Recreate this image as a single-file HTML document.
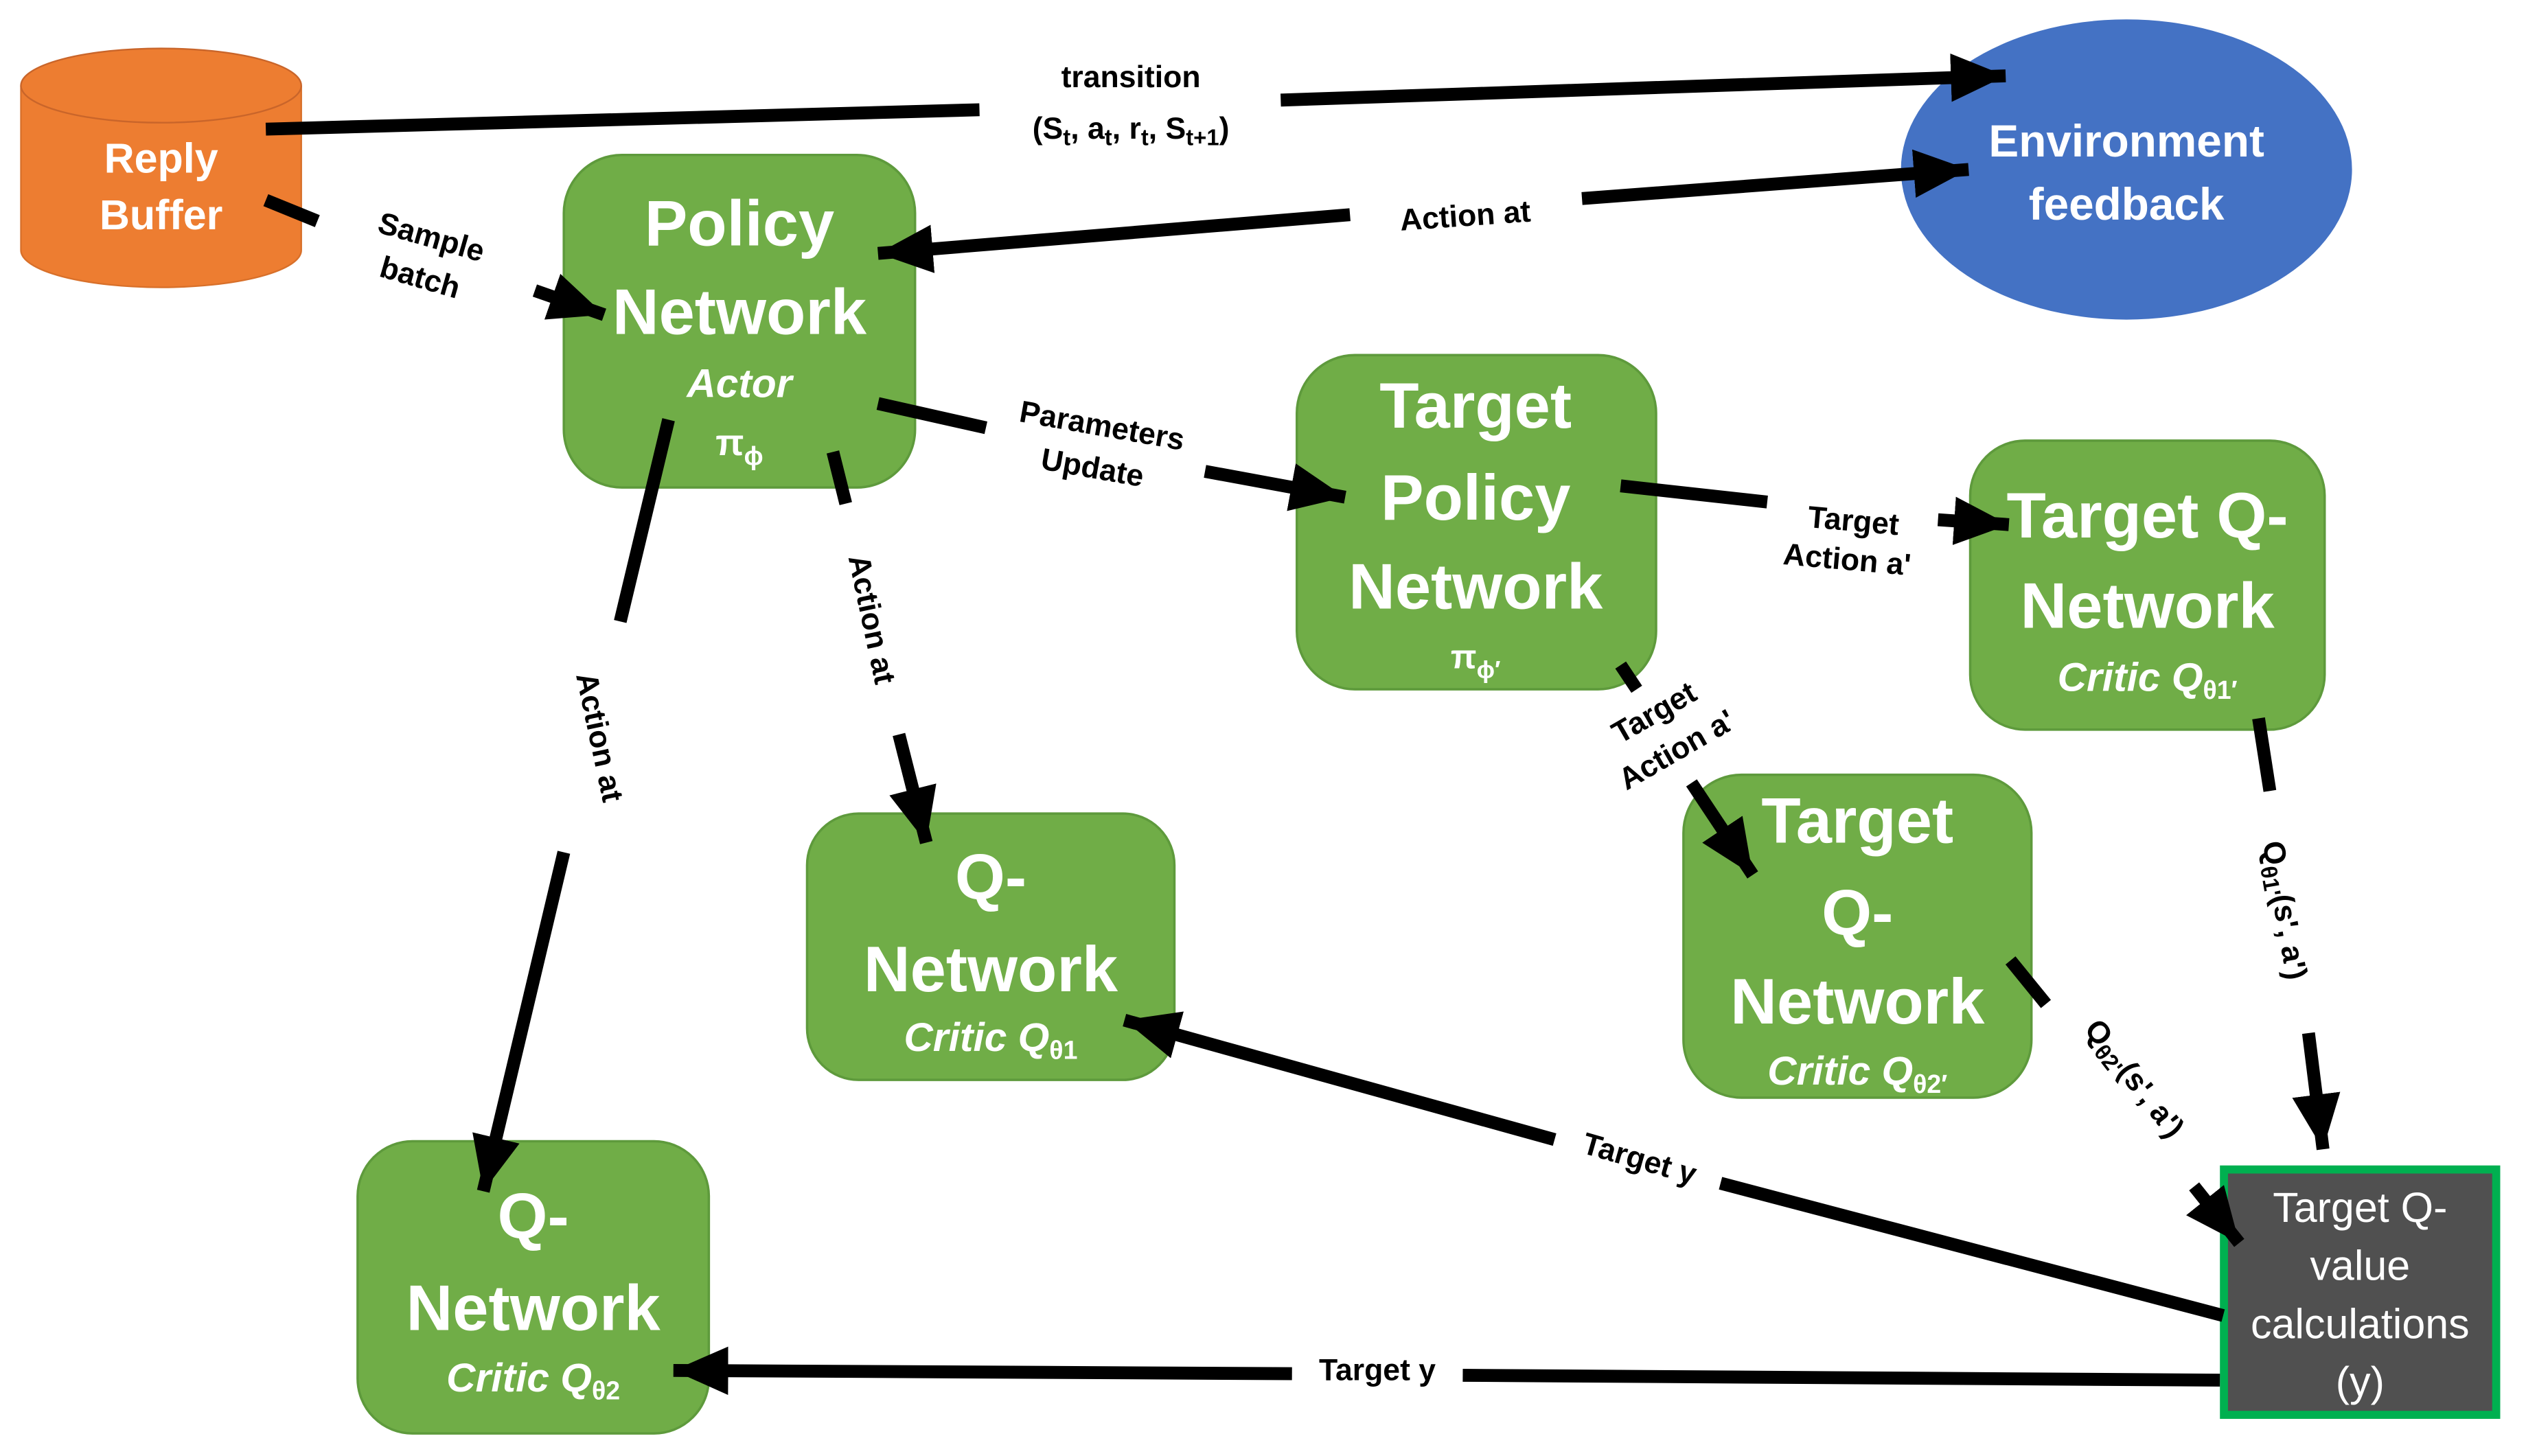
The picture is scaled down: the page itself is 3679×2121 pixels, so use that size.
<!DOCTYPE html>
<html><head><meta charset="utf-8"><style>
html,body{margin:0;padding:0;background:#fff;}
svg{display:block;}
text{font-family:"Liberation Sans",sans-serif;}
.w{fill:#fff;font-weight:bold;text-anchor:middle;}
.l{fill:#000;font-weight:bold;font-size:19px;text-anchor:middle;}
.i{font-style:italic;}
</style></head><body>
<svg width="3679" height="2121" viewBox="0 0 1568 902" preserveAspectRatio="none" xmlns="http://www.w3.org/2000/svg">
<defs>
<marker id="a" markerUnits="userSpaceOnUse" markerWidth="34" markerHeight="30" refX="34" refY="15" orient="auto">
<path d="M0,0 L34,15 L0,30 Z" fill="#000"/>
</marker>
</defs>
<path d="M13,53 L13,155 A87,23 0 0 0 187,155 L187,53" fill="#ED7D31" stroke="#D8702A" stroke-width="1"/>
<ellipse cx="100" cy="53" rx="87" ry="23" fill="#ED7D31" stroke="#C9652A" stroke-width="1"/>
<text class="w" x="100" y="107" font-size="26">Reply</text>
<text class="w" x="100" y="142" font-size="26">Buffer</text>
<ellipse cx="1320" cy="105" rx="140" ry="93" fill="#4472C4"/>
<text class="w" x="1320" y="97" font-size="28">Environment</text>
<text class="w" x="1320" y="136" font-size="28">feedback</text>
<g fill="#70AD47" stroke="#5E9A3C" stroke-width="1.5">
<rect x="350" y="96" width="218" height="206" rx="36"/>
<rect x="805" y="220" width="223" height="207" rx="36"/>
<rect x="1223" y="273" width="220" height="179" rx="34"/>
<rect x="501" y="504" width="228" height="165" rx="32"/>
<rect x="1045" y="480" width="216" height="200" rx="36"/>
<rect x="222" y="707" width="218" height="181" rx="34"/>
</g>
<text class="w" x="459" y="152" font-size="40">Policy</text>
<text class="w" x="459" y="207" font-size="40">Network</text>
<text class="w i" x="459" y="246" font-size="25">Actor</text>
<text class="w" x="459" y="282" font-size="23">π<tspan font-size="16" dy="6">ϕ</tspan></text>

<text class="w" x="916" y="265" font-size="40">Target</text>
<text class="w" x="916" y="322" font-size="40">Policy</text>
<text class="w" x="916" y="377" font-size="40">Network</text>
<text class="w" x="916" y="414" font-size="21">π<tspan font-size="15" dy="6">ϕ′</tspan></text>

<text class="w" x="1333" y="333" font-size="40">Target Q-</text>
<text class="w" x="1333" y="389" font-size="40">Network</text>
<text class="w i" x="1333" y="428" font-size="25">Critic  Q<tspan font-size="16" dy="5" font-style="normal">θ1′</tspan></text>

<text class="w" x="615" y="557" font-size="40">Q-</text>
<text class="w" x="615" y="614" font-size="40">Network</text>
<text class="w i" x="615" y="651" font-size="25">Critic Q<tspan font-size="16" dy="5" font-style="normal">θ1</tspan></text>

<text class="w" x="1153" y="522" font-size="40">Target</text>
<text class="w" x="1153" y="579" font-size="40">Q-</text>
<text class="w" x="1153" y="634" font-size="40">Network</text>
<text class="w i" x="1153" y="672" font-size="25">Critic Q<tspan font-size="16" dy="5" font-style="normal">θ2′</tspan></text>

<text class="w" x="331" y="767" font-size="40">Q-</text>
<text class="w" x="331" y="824" font-size="40">Network</text>
<text class="w i" x="331" y="862" font-size="25">Critic Q<tspan font-size="16" dy="5" font-style="normal">θ2</tspan></text>
<rect x="1380.5" y="724.5" width="169" height="152" fill="#505050" stroke="#00B050" stroke-width="5"/>
<g fill="#fff" font-size="26" text-anchor="middle">
<text x="1465" y="757">Target Q-</text>
<text x="1465" y="793">value</text>
<text x="1465" y="829">calculations</text>
<text x="1465" y="865">(y)</text>
</g>
<g stroke="#000" stroke-width="8" fill="none">
<line x1="165" y1="80" x2="608" y2="68"/>
<line x1="795" y1="62" x2="1245" y2="47" marker-end="url(#a)"/>
<line x1="838" y1="133" x2="545" y2="157" marker-end="url(#a)"/>
<line x1="982" y1="123" x2="1222" y2="105" marker-end="url(#a)"/>
<line x1="165" y1="124" x2="197" y2="137"/>
<line x1="332" y1="180" x2="375" y2="195" marker-end="url(#a)"/>
<line x1="545" y1="250" x2="612" y2="265"/>
<line x1="748" y1="292" x2="835" y2="308" marker-end="url(#a)"/>
<line x1="1006" y1="301" x2="1097" y2="311"/>
<line x1="1203" y1="322" x2="1247" y2="325" marker-end="url(#a)"/>
<line x1="1006" y1="412" x2="1016" y2="427"/>
<line x1="1050" y1="485" x2="1088" y2="542" marker-end="url(#a)"/>
<line x1="517" y1="280" x2="525" y2="312"/>
<line x1="558" y1="455" x2="575" y2="522" marker-end="url(#a)"/>
<line x1="415" y1="260" x2="385" y2="385"/>
<line x1="350" y1="528" x2="300" y2="738" marker-end="url(#a)"/>
<line x1="1402" y1="445" x2="1409" y2="490"/>
<line x1="1433" y1="640" x2="1442" y2="712" marker-end="url(#a)"/>
<line x1="1248" y1="595" x2="1270" y2="622"/>
<line x1="1362" y1="735" x2="1390" y2="770" marker-end="url(#a)"/>
<line x1="1380" y1="815" x2="1068" y2="733"/>
<line x1="965" y1="706" x2="698" y2="632" marker-end="url(#a)"/>
<line x1="1378" y1="855" x2="908" y2="852"/>
<line x1="802" y1="851" x2="418" y2="849" marker-end="url(#a)"/>
</g>
<text class="l" x="702" y="54">transition</text>
<text class="l" x="702" y="86" font-size="21">(S<tspan font-size="14" dy="4">t</tspan><tspan dy="-4">, a</tspan><tspan font-size="14" dy="4">t</tspan><tspan dy="-4">, r</tspan><tspan font-size="14" dy="4">t</tspan><tspan dy="-4">, S</tspan><tspan font-size="14" dy="4">t+1</tspan><tspan dy="-4">)</tspan></text>
<text class="l" transform="translate(910,140) rotate(-4)">Action at</text>
<text class="l" transform="translate(266,153) rotate(16)">Sample</text>
<text class="l" transform="translate(259,178) rotate(16)">batch</text>
<text class="l" transform="translate(683,270) rotate(10)">Parameters</text>
<text class="l" transform="translate(677,296) rotate(10)">Update</text>
<text class="l" font-size="16" transform="translate(1150,329) rotate(5)">Target</text>
<text class="l" font-size="16" transform="translate(1146,353) rotate(5)">Action a'</text>
<text class="l" font-size="16" transform="translate(1030,447) rotate(-30)">Target</text>
<text class="l" font-size="16" transform="translate(1044,470) rotate(-30)">Action a'</text>
<text class="l" transform="translate(535,385) rotate(78)">Action at</text>
<text class="l" transform="translate(366,458) rotate(78)">Action at</text>
<text class="l" font-size="21" transform="translate(1412,565) rotate(80)">Q<tspan font-size="14" dy="4">θ1'</tspan><tspan dy="-4">(s', a')</tspan></text>
<text class="l" font-size="21" transform="translate(1320,672) rotate(52)">Q<tspan font-size="14" dy="4">θ2'</tspan><tspan dy="-4">(s', a')</tspan></text>
<text class="l" transform="translate(1016,724) rotate(16)">Target y</text>
<text class="l" x="855" y="855">Target y</text>
</svg>
</body></html>
